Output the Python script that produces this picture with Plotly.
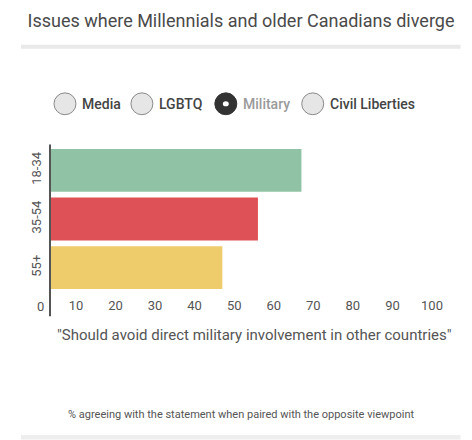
import plotly.graph_objects as go


age_groups = ["18-34", "35-54", "55+"]
agree_pct = [67, 56, 47]
bar_colors = ["#90c3a5", "#de5257", "#eecb6b"]

issues = ["Media", "LGBTQ", "Military", "Civil Liberties"]
selected_issue = "Military"

x_ticks = [10, 20, 30, 40, 50, 60, 70, 80, 90, 100]

title_text = "Issues where Millennials and older Canadians diverge"
statement = '"Should avoid direct military involvement in other countries"'
footnote = "% agreeing with the statement when paired with the opposite viewpoint"

# the page body adds an 8px margin round the figure
PAGE_PAD = 8
WIDTH, HEIGHT = 472 - PAGE_PAD, 440 - PAGE_PAD
MARGIN = dict(l=50 - PAGE_PAD, r=39.6, t=145.5 - PAGE_PAD, b=147.5, pad=0)
AXIS_START = 3.44  # the y axis sits a little to the right of zero

plot_w = WIDTH - MARGIN["l"] - MARGIN["r"]
plot_h = HEIGHT - MARGIN["t"] - MARGIN["b"]


def px_x(p):
    """Turns a window pixel column into paper coordinates."""
    return (p - PAGE_PAD - MARGIN["l"]) / plot_w


def px_y(p):
    """Turns a window pixel row into paper coordinates."""
    return (HEIGHT - MARGIN["b"] - (p - PAGE_PAD)) / plot_h


fig = go.Figure(
    go.Bar(
        x=agree_pct,
        y=age_groups,
        orientation="h",
        marker=dict(color=bar_colors, line=dict(width=0)),
        hoverinfo="x+y",
    )
)

fig.update_layout(
    width=WIDTH,
    height=HEIGHT,
    margin=MARGIN,
    paper_bgcolor="white",
    plot_bgcolor="white",
    font=dict(family="Roboto", color="#555"),
    bargap=0.12,
    showlegend=False,
    title=dict(
        text=title_text,
        x=(241 - PAGE_PAD) / WIDTH,
        xanchor="center",
        y=1 - (21 - PAGE_PAD) / HEIGHT,
        yanchor="middle",
        font=dict(size=18, color="#4a4a4a"),
    ),
)

fig.update_xaxes(
    range=[AXIS_START, 100],
    tickvals=x_ticks,
    showgrid=False,
    zeroline=False,
    showline=False,
    ticks="outside",
    ticklen=1,
    tickcolor="rgba(0,0,0,0)",
    tickfont=dict(size=13, color="#555"),
    fixedrange=True,
)

fig.update_yaxes(
    categoryorder="array",
    categoryarray=age_groups,
    autorange="reversed",
    tickangle=-90,
    showgrid=False,
    zeroline=False,
    showline=False,
    ticks="outside",
    ticklen=3,
    tickcolor="rgba(0,0,0,0)",
    tickfont=dict(size=13, color="#555"),
    fixedrange=True,
)

shapes = [
    # vertical axis line
    dict(type="line", xref="paper", yref="paper", x0=0, x1=0,
         y0=px_y(317), y1=px_y(144), line=dict(color="#555", width=2)),
    # rule under the title
    dict(type="rect", xref="paper", yref="paper", x0=px_x(21), x1=px_x(461),
         y0=px_y(47.5), y1=px_y(43.5), fillcolor="#e9e9e9", line=dict(width=0)),
    # rule at the bottom
    dict(type="rect", xref="paper", yref="paper", x0=px_x(21), x1=px_x(461),
         y0=px_y(441), y1=px_y(436.5), fillcolor="#eeeeee", line=dict(width=0)),
]

annotations = [
    dict(text="0", xref="paper", yref="paper", x=px_x(40), y=px_y(307),
         xanchor="center", yanchor="middle", showarrow=False,
         font=dict(size=13, color="#555")),
    dict(text=statement, xref="paper", yref="paper", x=px_x(255), y=px_y(336),
         xanchor="center", yanchor="middle", showarrow=False,
         font=dict(size=15, color="#555")),
    dict(text=footnote, xref="paper", yref="paper", x=px_x(241), y=px_y(416),
         xanchor="center", yanchor="middle", showarrow=False,
         font=dict(size=11, color="#555")),
]

# radio buttons for the issue picker
radio_x = [65, 142, 226, 313]
radio_y = 103
radio_r = 11
for issue, cx in zip(issues, radio_x):
    on = issue == selected_issue
    shapes.append(dict(
        type="circle", xref="paper", yref="paper",
        x0=px_x(cx - radio_r), x1=px_x(cx + radio_r),
        y0=px_y(radio_y + radio_r), y1=px_y(radio_y - radio_r),
        fillcolor="#333" if on else "#e6e6e6",
        line=dict(color="#333" if on else "#8a8a8a", width=1),
    ))
    if on:
        shapes.append(dict(
            type="circle", xref="paper", yref="paper",
            x0=px_x(cx - 3), x1=px_x(cx + 3),
            y0=px_y(radio_y + 2.6), y1=px_y(radio_y - 2.6),
            fillcolor="white", line=dict(width=0),
        ))
    annotations.append(dict(
        text=issue, xref="paper", yref="paper",
        x=px_x(cx + radio_r + 4), y=px_y(radio_y),
        xanchor="left", yanchor="middle", showarrow=False,
        font=dict(size=14, color="#9a9a9a" if on else "#444", weight=500),
    ))

fig.update_layout(shapes=shapes, annotations=annotations)

fig.write_html("out.html", config={"displayModeBar": False})
